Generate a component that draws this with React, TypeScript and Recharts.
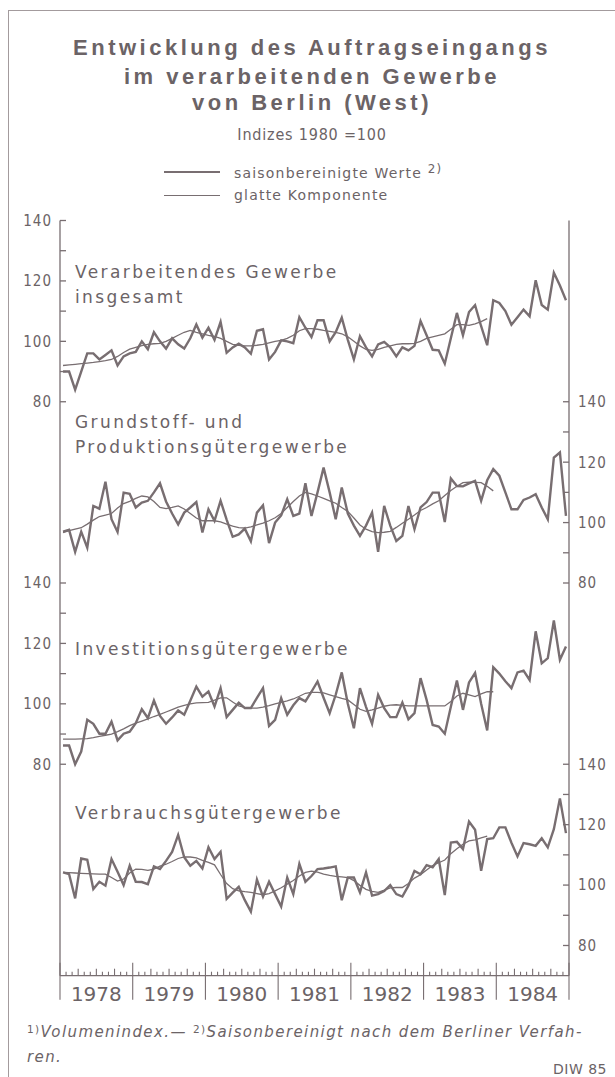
import { LineChart, Line, XAxis, YAxis } from 'recharts'

const years = ['1978', '1979', '1980', '1981', '1982', '1983', '1984']

// saisonbereinigte Werte, monthly 1978-1984
const total = [
  90, 90, 84, 90, 96, 96, 94, 95.5, 97, 92, 95, 96,
  96.5, 100, 97.4, 103, 100, 97.6, 101, 99, 97.6, 101, 105.6, 101.2,
  104.5, 100.5, 106.4, 96.2, 98, 99.2, 98, 95.9, 103.5, 104, 94, 96.5,
  100.3, 100, 99.4, 108, 104.5, 101.4, 107, 107, 100, 103, 107.8, 100.5,
  94, 101.7, 98, 95, 99, 99.8, 98, 95, 98, 97, 98.5, 106.7,
  102, 97.2, 97, 92.6, 101, 109.4, 102, 109.7, 112, 105, 98.7, 113.6,
  112.7, 110, 105.5, 108, 110.5, 108.3, 120.2, 112, 110.5, 122.7, 118.5, 113.6,
]
const basic = [
  97, 97.6, 90.3, 97, 91.7, 105.5, 104.6, 113.5, 101.1, 96.9, 109.9, 109.5,
  105, 106.6, 107.2, 110, 113, 107, 103, 99.4, 103.3, 105, 106.8, 96.7,
  104.4, 100.6, 107.2, 101, 95.3, 96.1, 98, 93.8, 103.3, 105.7, 93.2, 100,
  102.4, 107.7, 102.2, 103, 113, 102.2, 110, 118.2, 110, 101.1, 111.6, 103,
  99, 95.6, 99, 103.3, 90.3, 105.5, 99, 93.9, 95.6, 105.5, 97.8, 105,
  106.8, 109.9, 109.9, 100.2, 114.6, 112.1, 112, 113, 113.8, 107.2, 114, 117.7,
  115.5, 110, 104.4, 104.4, 107.5, 108.3, 109.4, 105, 101.1, 121.5, 123.2, 102.2,
]
const capital = [
  86.2, 86.2, 80, 84.2, 94.7, 93.4, 90.1, 90.1, 94.1, 87.9, 90.1, 90.8,
  93.6, 98.2, 95.3, 101.1, 96, 93.4, 95.5, 97.8, 96.4, 101, 105.7, 102.4,
  104.1, 99.1, 105.2, 95.6, 98, 100.4, 98.6, 98.6, 102, 105.2, 92.7, 94.7,
  101.9, 96.4, 99.5, 101.9, 100.8, 104, 107.4, 102, 96.9, 103, 110.4, 100,
  91.9, 105.2, 99, 93.4, 103, 98.6, 95.6, 95.6, 100.4, 94.9, 96.9, 108.5,
  101.3, 93, 92.5, 90.1, 99, 107.7, 98, 107.1, 110.2, 100, 91.2, 112.1,
  110, 107.5, 105.2, 110.4, 111, 107.9, 124, 113.4, 115.1, 127.6, 114.6, 119,
]
const consumer = [
  104.2, 103.6, 95.6, 108.8, 108.4, 98.7, 101.1, 99.8, 108.6, 104.4, 100, 106.4,
  101.1, 101, 100.3, 106.2, 105.3, 108, 111, 116.6, 109.2, 106.4, 108, 105.5,
  112.5, 108.6, 111, 95.4, 97.5, 99.4, 95, 91.2, 101.8, 96.2, 101.1, 97,
  92.9, 102.5, 97, 107, 101.1, 103, 105.3, 105.5, 105.8, 106.2, 95, 102.5,
  102.5, 97.6, 104.2, 96.5, 97, 98, 100, 97, 96.2, 99.8, 104.7, 103.6,
  106.6, 105.9, 108.6, 96.7, 114.1, 114.3, 111.9, 121, 118.3, 104.7, 115.2, 115.5,
  119.1, 119.1, 114, 109.5, 113.9, 113.5, 113, 115.5, 112.5, 118.5, 128.7, 117.2,
]

// glatte Komponente (ends late 1983)
const totalSmooth = [
  92, 92.2, 92.4, 92.6, 92.8, 93, 93.3, 93.6, 94, 95, 96.3, 97.4,
  98, 98.6, 99, 99.2, 99.3, 100, 101, 102, 103, 103.6, 103, 102.5,
  102, 101.6, 101, 100, 99, 98.7, 98.5, 98.5, 98.7, 99, 99.5, 100,
  100.3, 101, 102, 103.5, 104.2, 104.2, 104, 103.6, 103.3, 103, 102.5, 101.5,
  100, 98.5, 97.3, 97, 97.3, 98, 98.5, 99, 99.2, 99.2, 99.3, 100,
  101, 101.5, 102, 102.5, 104, 105.5, 105.5, 105.3, 105.8, 106.5, 107.5,
]
const basicSmooth = [
  96.7, 97.3, 97.8, 98.3, 99.5, 100.8, 102, 102.5, 103, 104.8, 106.3, 107,
  108, 108.8, 108.5, 107, 105, 104.6, 105, 105.5, 104.5, 103, 101.5, 100.6,
  100.6, 100.6, 100.2, 99.5, 98.8, 98.3, 98.2, 98.6, 99.2, 99.8, 100.6, 101.6,
  103, 105, 107, 108.8, 110, 109.5, 108.8, 108, 107.2, 106.4, 105, 103.7,
  101.5, 99.2, 97.8, 97, 96.7, 96.8, 97.1, 98.4, 99.8, 101.1, 102.5, 104,
  105, 106.2, 107.2, 109, 110.6, 112, 113.2, 113.4, 113.3, 113.2, 112, 110.5,
]
const capitalSmooth = [
  88.3, 88.3, 88.3, 88.4, 88.5, 88.8, 89.2, 89.6, 90, 90.8, 91.7, 92.8,
  93.6, 94.3, 95, 95.8, 96.5, 97.3, 98.1, 98.9, 99.5, 100, 100.3, 100.4,
  100.5, 101.2, 102, 102, 100.6, 99.3, 98.8, 98.6, 98.6, 98.9, 99.4, 100,
  100.5, 101, 101.6, 102.5, 103.5, 103.8, 103.8, 103.6, 103, 102.4, 101.8, 101.3,
  99.8, 98.2, 97.5, 98, 98.6, 99.2, 99.6, 99.7, 99.5, 99.3, 99.3, 99.3,
  99.3, 99.3, 99.3, 99.3, 100.8, 102.6, 103.5, 103, 102.4, 103.3, 104, 104,
]
const consumerSmooth = [
  104.2, 104.1, 104, 103.9, 103.8, 103.7, 103.6, 103.6, 102.5, 101.3, 102, 104,
  105.3, 105.2, 104.9, 105.3, 106.3, 106.9, 107.8, 108.8, 109.3, 109.3, 109, 108.2,
  107.5, 106.7, 103.5, 100.5, 98.8, 98.1, 97.8, 97.6, 97.2, 96.8, 97.2, 98.1,
  99.1, 100.3, 101.5, 103, 104.2, 104.6, 104.3, 103.6, 103.2, 102.9, 102.7, 102.5,
  101.5, 99.9, 98.6, 97.9, 97.6, 98.3, 99.1, 99.2, 99.2, 100.5, 102.3, 103.4,
  105, 106.5, 107.4, 108.3, 110.4, 112, 113.5, 114.6, 115, 115.6, 116.2,
]

const scaleTicks = [80, 90, 100, 110, 120, 130, 140]

// each panel's scale top (value at the top edge of the plot); every scale spans 250 points
const panelTops = [140, 200, 260, 320]
const span = 250

const ink = '#6b6366'
const lineInk = '#786e71'
const narrow = '"Liberation Sans Narrow", "DejaVu Sans Condensed", "Roboto", sans-serif'
const plain = '"DejaVu Sans", "Liberation Sans", sans-serif'

const rows = total.map((v, i) => ({
  t: i + 0.5,
  total: v,
  totalSmooth: totalSmooth[i] ?? null,
  basic: basic[i],
  basicSmooth: basicSmooth[i] ?? null,
  capital: capital[i],
  capitalSmooth: capitalSmooth[i] ?? null,
  consumer: consumer[i],
  consumerSmooth: consumerSmooth[i] ?? null,
}))

const monthTicks = Array.from({ length: years.length * 12 + 1 }, (_, i) => i)

// frame axis shares panel 1's scale; other panels are shifted by their offset
const shift = (k: number) => panelTops[k] - panelTops[0]
const leftTicks = [
  ...scaleTicks.map((v) => ({ pos: v - shift(0), v })),
  ...scaleTicks.map((v) => ({ pos: v - shift(2), v })),
]
const rightTicks = [
  ...scaleTicks.map((v) => ({ pos: v - shift(1), v })),
  ...scaleTicks.map((v) => ({ pos: v - shift(3), v })),
]

const panels = [
  { id: 'p0', raw: 'total', smooth: 'totalSmooth' },
  { id: 'p1', raw: 'basic', smooth: 'basicSmooth' },
  { id: 'p2', raw: 'capital', smooth: 'capitalSmooth' },
  { id: 'p3', raw: 'consumer', smooth: 'consumerSmooth' },
]

function SideTick(props: any) {
  const { x, y, payload, side, list } = props
  const item = list.find((t: { pos: number }) => t.pos === payload.value)
  if (!item) return null
  const left = side === 'left'
  return (
    <g>
      <line x1={x} x2={left ? x + 6 : x - 6} y1={y} y2={y} stroke={lineInk} strokeWidth={1.3} />
      {item.v % 20 === 0 && (
        <text
          x={left ? x - 8 : x + 9}
          y={y}
          dy="0.36em"
          textAnchor={left ? 'end' : 'start'}
          fontFamily={narrow}
          fontSize={15}
          letterSpacing={1}
          fill={ink}
        >
          {item.v}
        </text>
      )}
    </g>
  )
}

function MonthTick(props: any) {
  const { x, y, payload } = props
  const m = payload.value
  const yearEdge = m % 12 === 0
  const h = yearEdge ? 13 : m % 3 === 0 ? 7 : 4
  return (
    <g>
      <line x1={x} x2={x} y1={y - h} y2={yearEdge ? y + 24 : y} stroke={lineInk} strokeWidth={1.1} />
      {m % 12 === 6 && (
        <text
          x={x}
          y={y + 18}
          dy="0.36em"
          textAnchor="middle"
          fontFamily={plain}
          fontSize={20}
          fill={ink}
        >
          {years[Math.floor(m / 12)]}
        </text>
      )}
    </g>
  )
}

function Label({ x, y, children, style }: { x: number; y: number; children: any; style?: any }) {
  return (
    <div
      style={{
        position: 'absolute',
        left: x,
        top: y,
        transform: 'translateY(-50%)',
        whiteSpace: 'nowrap',
        color: ink,
        fontFamily: plain,
        lineHeight: 1,
        ...style,
      }}
    >
      {children}
    </div>
  )
}

function Centered({ y, children, style }: { y: number; children: any; style?: any }) {
  return (
    <div
      style={{
        position: 'absolute',
        left: 312,
        top: y,
        transform: 'translate(-50%, -50%)',
        whiteSpace: 'nowrap',
        color: ink,
        fontFamily: plain,
        lineHeight: 1,
        ...style,
      }}
    >
      {children}
    </div>
  )
}

const titleStyle = { fontFamily: '"Liberation Sans", Arial, sans-serif', fontWeight: 700, fontSize: 22, letterSpacing: 3.5 }
const panelStyle = { fontSize: 17, letterSpacing: 2.4 }
const sup = { fontSize: '0.7em', verticalAlign: '0.45em', fontStyle: 'normal' as const }

export default function App() {
  return (
    <div style={{ position: 'absolute', left: 0, top: 0, width: 615, height: 1077, background: '#fff', overflow: 'hidden' }}>
      <div
        style={{
          position: 'absolute',
          left: 8,
          top: 10,
          width: 620,
          height: 1080,
          borderTop: '1.5px solid #a39b9d',
          borderLeft: '1.5px solid #a39b9d',
        }}
      />
      <LineChart
        width={615}
        height={1077}
        data={rows}
        margin={{ top: 220.5, right: 6, bottom: 71.3, left: 8 }}
        style={{ position: 'absolute', left: 0, top: 0 }}
      >
        <XAxis
          xAxisId="month"
          dataKey="t"
          type="number"
          domain={[0, monthTicks.length - 1]}
          ticks={monthTicks}
          interval={0}
          height={30}
          tickSize={0}
          tickMargin={0}
          tickLine={false}
          axisLine={{ stroke: lineInk, strokeWidth: 1.3 }}
          tick={(p: any) => <MonthTick {...p} />}
        />
        <XAxis
          xAxisId="top"
          orientation="top"
          type="number"
          domain={[0, monthTicks.length - 1]}
          height={0}
          tick={false}
          tickLine={false}
          axisLine={{ stroke: lineInk, strokeWidth: 1.3 }}
        />
        <YAxis
          yAxisId="frameL"
          orientation="left"
          type="number"
          domain={[panelTops[0] - span, panelTops[0]]}
          allowDataOverflow
          ticks={leftTicks.map((t) => t.pos)}
          interval={0}
          width={52}
          tickSize={0}
          tickMargin={0}
          tickLine={false}
          axisLine={{ stroke: lineInk, strokeWidth: 1.3 }}
          tick={(p: any) => <SideTick {...p} side="left" list={leftTicks} />}
        />
        <YAxis
          yAxisId="frameR"
          orientation="right"
          type="number"
          domain={[panelTops[0] - span, panelTops[0]]}
          allowDataOverflow
          ticks={rightTicks.map((t) => t.pos)}
          interval={0}
          width={40}
          tickSize={0}
          tickMargin={0}
          tickLine={false}
          axisLine={{ stroke: lineInk, strokeWidth: 1.3 }}
          tick={(p: any) => <SideTick {...p} side="right" list={rightTicks} />}
        />
        {panels.map((p, k) => (
          <YAxis
            key={p.id}
            yAxisId={p.id}
            hide
            type="number"
            domain={[panelTops[k] - span, panelTops[k]]}
            allowDataOverflow
          />
        ))}
        {panels.map((p) => (
          <Line
            key={p.smooth}
            xAxisId="month"
            yAxisId={p.id}
            dataKey={p.smooth}
            stroke={lineInk}
            strokeWidth={1.3}
            dot={false}
            isAnimationActive={false}
          />
        ))}
        {panels.map((p) => (
          <Line
            key={p.raw}
            xAxisId="month"
            yAxisId={p.id}
            dataKey={p.raw}
            stroke={lineInk}
            strokeWidth={2.4}
            dot={false}
            isAnimationActive={false}
          />
        ))}
      </LineChart>

      <Centered y={48} style={titleStyle}>Entwicklung des Auftragseingangs</Centered>
      <Centered y={77} style={titleStyle}>im verarbeitenden Gewerbe</Centered>
      <Centered y={103} style={titleStyle}>von Berlin (West)</Centered>
      <Centered y={135} style={{ fontFamily: narrow, fontSize: 16, letterSpacing: 0.8 }}>Indizes 1980 =100</Centered>

      <div style={{ position: 'absolute', left: 164, top: 171, width: 56, height: 0, borderTop: `2px solid ${lineInk}` }} />
      <div style={{ position: 'absolute', left: 164, top: 194.5, width: 56, height: 0, borderTop: `1.3px solid ${lineInk}` }} />
      <Label x={234} y={172} style={{ fontSize: 14, letterSpacing: 1.2 }}>
        saisonbereinigte Werte <span style={{ ...sup, fontSize: '0.85em' }}>2)</span>
      </Label>
      <Label x={234} y={195} style={{ fontSize: 14, letterSpacing: 1.2 }}>glatte Komponente</Label>

      <Label x={75} y={272} style={panelStyle}>Verarbeitendes Gewerbe</Label>
      <Label x={75} y={297} style={panelStyle}>insgesamt</Label>
      <Label x={75} y={422} style={panelStyle}>Grundstoff- und</Label>
      <Label x={75} y={447} style={panelStyle}>Produktionsgütergewerbe</Label>
      <Label x={75} y={649} style={panelStyle}>Investitionsgütergewerbe</Label>
      <Label x={75} y={813} style={panelStyle}>Verbrauchsgütergewerbe</Label>

      <Label x={27} y={1032} style={{ fontSize: 15, letterSpacing: 1.4, fontStyle: 'italic' }}>
        <span style={sup}>1)</span>Volumenindex.— <span style={sup}>2)</span>Saisonbereinigt nach dem Berliner Verfah-
      </Label>
      <Label x={27} y={1057} style={{ fontSize: 15, letterSpacing: 1.4, fontStyle: 'italic' }}>ren.</Label>
      <Label x={553} y={1069} style={{ fontSize: 14, letterSpacing: 0.5 }}>DIW 85</Label>
    </div>
  )
}
